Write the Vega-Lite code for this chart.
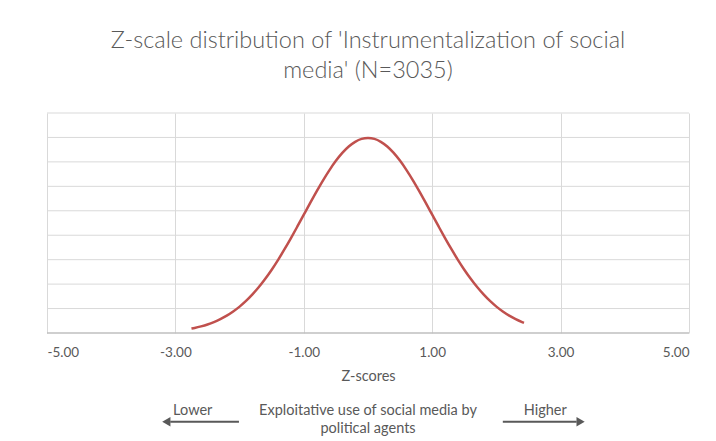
{
  "$schema": "https://vega.github.io/schema/vega-lite/v6.json",
  "width": 642,
  "height": 220,
  "autosize": {"type": "none"},
  "padding": {"left": 47, "top": 113, "right": 27, "bottom": 108},
  "background": "white",
  "title": {
    "text": ["Z-scale distribution of 'Instrumentalization of social", "media' (N=3035)"],
    "font": "Lato",
    "fontSize": 23.5,
    "fontWeight": 300,
    "color": "#595959",
    "anchor": "middle",
    "frame": "group",
    "offset": 30,
    "lineHeight": 30
  },
  "config": {
    "view": {"stroke": null},
    "font": "Lato",
    "axis": {"labelFont": "Lato", "titleFont": "Lato", "labelColor": "#595959", "titleColor": "#595959", "gridColor": "#d9d9d9", "gridWidth": 1, "domain": false, "ticks": false}
  },
  "datasets": {
    "curve": [
      {"z": -2.75, "d": 0.0091}, {"z": -2.7, "d": 0.0104}, {"z": -2.6, "d": 0.0136}, {"z": -2.5, "d": 0.0175},
      {"z": -2.4, "d": 0.0224}, {"z": -2.3, "d": 0.0283}, {"z": -2.2, "d": 0.0355}, {"z": -2.1, "d": 0.044},
      {"z": -2.0, "d": 0.054}, {"z": -1.9, "d": 0.0656}, {"z": -1.8, "d": 0.079}, {"z": -1.7, "d": 0.094},
      {"z": -1.6, "d": 0.1109}, {"z": -1.5, "d": 0.1295}, {"z": -1.4, "d": 0.1497}, {"z": -1.3, "d": 0.1714},
      {"z": -1.2, "d": 0.1942}, {"z": -1.1, "d": 0.2179}, {"z": -1.0, "d": 0.242}, {"z": -0.9, "d": 0.2661},
      {"z": -0.8, "d": 0.2897}, {"z": -0.7, "d": 0.3123}, {"z": -0.6, "d": 0.3332}, {"z": -0.5, "d": 0.3521},
      {"z": -0.4, "d": 0.3683}, {"z": -0.3, "d": 0.3814}, {"z": -0.2, "d": 0.391}, {"z": -0.1, "d": 0.397},
      {"z": 0.0, "d": 0.3989}, {"z": 0.1, "d": 0.397}, {"z": 0.2, "d": 0.391}, {"z": 0.3, "d": 0.3814},
      {"z": 0.4, "d": 0.3683}, {"z": 0.5, "d": 0.3521}, {"z": 0.6, "d": 0.3332}, {"z": 0.7, "d": 0.3123},
      {"z": 0.8, "d": 0.2897}, {"z": 0.9, "d": 0.2661}, {"z": 1.0, "d": 0.242}, {"z": 1.1, "d": 0.2179},
      {"z": 1.2, "d": 0.1942}, {"z": 1.3, "d": 0.1714}, {"z": 1.4, "d": 0.1497}, {"z": 1.5, "d": 0.1295},
      {"z": 1.6, "d": 0.1109}, {"z": 1.7, "d": 0.094}, {"z": 1.8, "d": 0.079}, {"z": 1.9, "d": 0.0656},
      {"z": 2.0, "d": 0.054}, {"z": 2.1, "d": 0.044}, {"z": 2.2, "d": 0.0355}, {"z": 2.3, "d": 0.0283},
      {"z": 2.4, "d": 0.0224}, {"z": 2.43, "d": 0.0208}
    ],
    "hgrid": [
      {"g": 0.05}, {"g": 0.1}, {"g": 0.15}, {"g": 0.2}, {"g": 0.25}, {"g": 0.3}, {"g": 0.35}, {"g": 0.4}, {"g": 0.45}
    ],
    "labels": [
      {"z": -2.73, "y": -0.1595, "label": "Lower"},
      {"z": 2.76, "y": -0.1595, "label": "Higher"},
      {"z": 0.0, "y": -0.1595, "label": "Exploitative use of social media by"},
      {"z": 0.0, "y": -0.196, "label": "political agents"}
    ],
    "arrows": [
      {"side": "left", "x1": -2.01, "x2": -3.08, "tip": -3.12, "y": -0.1814, "angle": 270},
      {"side": "right", "x1": 2.1, "x2": 3.25, "tip": 3.29, "y": -0.1814, "angle": 90}
    ]
  },
  "layer": [
    {
      "data": {"name": "hgrid"},
      "mark": {"type": "rule", "color": "#d9d9d9", "strokeWidth": 1},
      "encoding": {
        "x": {
          "datum": -5, "type": "quantitative",
          "scale": {"domain": [-5, 5], "nice": false, "zero": false},
          "axis": {"values": [-5, -3, -1, 1, 3, 5], "labelExpr": "(datum.value < 0 ? '-' : '') + format(abs(datum.value), '.2f')", "labelFontSize": 13.5, "labelPadding": 12, "title": "Z-scores", "titleFontSize": 14.5, "titleFontWeight": "normal", "titlePadding": 11, "grid": true}
        },
        "x2": {"datum": 5},
        "y": {"field": "g", "type": "quantitative", "scale": {"domain": [0, 0.45], "nice": false}, "axis": null}
      }
    },
    {
      "data": {"values": [{"z": -5}, {"z": 5}]},
      "mark": {"type": "rule", "color": "#bfbfbf", "strokeWidth": 1},
      "encoding": {
        "x": {"datum": -5, "type": "quantitative"},
        "x2": {"datum": 5},
        "y": {"datum": 0, "type": "quantitative", "axis": null}
      }
    },
    {
      "data": {"name": "curve"},
      "mark": {"type": "line", "color": "#c0504d", "strokeWidth": 2.5, "interpolate": "monotone"},
      "encoding": {
        "x": {"field": "z", "type": "quantitative"},
        "y": {"field": "d", "type": "quantitative", "axis": null}
      }
    },
    {
      "data": {"name": "labels"},
      "mark": {"type": "text", "font": "Lato", "fontSize": 14.5, "color": "#595959", "baseline": "middle", "align": "center"},
      "encoding": {
        "x": {"field": "z", "type": "quantitative"},
        "y": {"field": "y", "type": "quantitative", "axis": null},
        "text": {"field": "label"}
      }
    },
    {
      "data": {"name": "arrows"},
      "mark": {"type": "rule", "color": "#595959", "strokeWidth": 2},
      "encoding": {
        "x": {"field": "x1", "type": "quantitative"},
        "x2": {"field": "x2"},
        "y": {"field": "y", "type": "quantitative", "axis": null}
      }
    },
    {
      "data": {"name": "arrows"},
      "mark": {"type": "point", "shape": "triangle", "filled": true, "color": "#595959", "size": 90, "opacity": 1},
      "encoding": {
        "x": {"field": "tip", "type": "quantitative"},
        "y": {"field": "y", "type": "quantitative", "axis": null},
        "angle": {"field": "angle", "type": "quantitative", "scale": null}
      }
    }
  ]
}
